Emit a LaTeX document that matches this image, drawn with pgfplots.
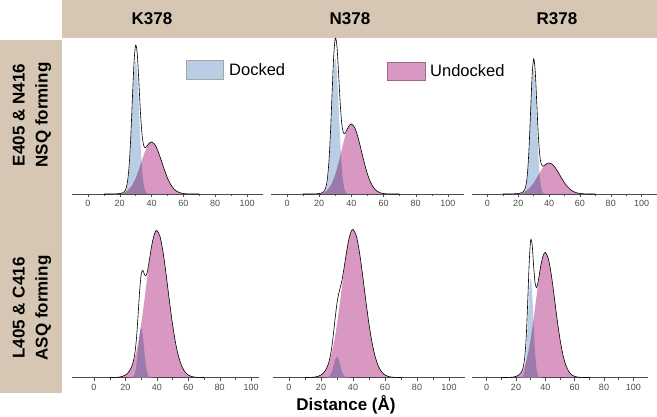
\documentclass[border=0pt]{standalone}
\usepackage{pgfplots}
\pgfplotsset{compat=1.18}
\usepackage{pgfplotstable}
\usepackage{fontspec}
\setmainfont{Liberation Sans}
\definecolor{tan}{RGB}{213,199,179}
\definecolor{dock}{RGB}{185,205,228}
\definecolor{undock}{RGB}{217,152,193}

\pgfplotstableread{
x d u
10 0 0
12 0 0
14 0 0.02
16 0 0.06
18 0 0.17
20 0 0.46
21 0 0.72
22 0.2 1.12
23 0.8 1.70
24 3.2 2.51
25 10.1 3.63
26 25.5 5.11
27 52.5 7.04
28 88.0 9.46
29 120.0 12.42
30 133.0 15.92
31 120.0 19.94
32 88.0 24.38
33 52.5 29.11
34 25.5 33.96
35 10.1 38.68
36 3.2 43.03
37 0.8 46.75
38 0.2 49.60
39 0 51.39
40 0 52.00
42 0 49.60
44 0 43.03
46 0 33.96
48 0 24.38
50 0 15.92
52 0 9.46
54 0 5.11
56 0 2.51
58 0 1.12
60 0 0.46
62 0 0.17
64 0 0.06
66 0 0.02
68 0 0
70 0 0
}\tTL

\pgfplotstableread{
x d u
10 0 0
12 0 0
14 0 0
16 0 0.05
18 0 0.15
20 0 0.46
21 0 0.74
22 0.2 1.18
23 0.9 1.83
24 3.3 2.78
25 10.3 4.11
26 26.0 5.93
27 53.7 8.33
28 90.0 11.41
29 122.7 15.25
30 136.0 19.86
31 122.7 25.23
32 90.0 31.26
33 53.7 37.76
34 26.0 44.48
35 10.3 51.09
36 3.3 57.22
37 0.9 62.50
38 0.2 66.56
39 0 69.13
40 0 70.00
42 0 66.56
44 0 57.22
46 0 44.48
48 0 31.26
50 0 19.86
52 0 11.41
54 0 5.93
56 0 2.78
58 0 1.18
60 0 0.46
62 0 0.15
64 0 0.05
66 0 0
68 0 0
70 0 0
}\tTM

\pgfplotstableread{
x d u
10 0 0
12 0 0.01
14 0 0.03
16 0 0.09
18 0 0.22
20 0 0.52
21 0 0.78
22 0 1.14
23 0.3 1.62
24 1.4 2.28
25 5.4 3.12
26 16.8 4.19
27 40.3 5.53
28 75.2 7.13
29 109.4 9.02
30 124.0 11.17
31 109.4 13.57
32 75.2 16.14
33 40.3 18.80
34 16.8 21.47
35 5.4 24.02
36 1.4 26.33
37 0.3 28.28
38 0 29.76
39 0 30.69
40 0 31.00
42 0 29.76
44 0 26.33
46 0 21.47
48 0 16.14
50 0 11.17
52 0 7.13
54 0 4.19
56 0 2.28
58 0 1.14
60 0 0.52
62 0 0.22
64 0 0.09
66 0 0.03
68 0 0.01
70 0 0
}\tTR

\pgfplotstableread{
x d u
10 0 0.01
12 0 0.04
14 0 0.15
16 0 0.41
18 0 1.06
20 0 2.48
21 0 3.69
22 0 5.39
23 0.03 7.70
24 0.20 10.79
25 1.06 14.80
26 4.24 19.89
27 12.47 26.21
28 26.97 33.82
29 42.85 42.76
30 50.00 52.98
31 42.85 64.33
32 26.97 76.51
33 12.47 89.16
34 4.24 101.81
35 1.06 113.90
36 0.20 124.86
37 0.03 134.11
38 0 141.12
39 0 145.52
40 0 147.00
42 0 141.12
44 0 124.86
46 0 101.81
48 0 76.51
50 0 52.98
52 0 33.82
54 0 19.89
56 0 10.79
58 0 5.39
60 0 2.48
62 0 1.06
64 0 0.41
66 0 0.15
68 0 0.04
70 0 0.01
}\tBL

\pgfplotstableread{
x d u
10 0 0.01
12 0 0.04
14 0 0.15
16 0 0.41
18 0 1.07
20 0 2.50
21 0 3.71
22 0 5.43
23 0.05 7.76
24 0.23 10.86
25 0.92 14.90
26 2.84 20.02
27 6.82 26.39
28 12.74 34.05
29 18.53 43.05
30 21.00 53.34
31 18.53 64.76
32 12.74 77.03
33 6.82 89.76
34 2.84 102.50
35 0.92 114.67
36 0.23 125.71
37 0.05 135.02
38 0 142.08
39 0 146.51
40 0 148.00
42 0 142.08
44 0 125.71
46 0 102.50
48 0 77.03
50 0 53.34
52 0 34.05
54 0 20.02
56 0 10.86
58 0 5.43
60 0 2.50
62 0 1.07
64 0 0.41
66 0 0.15
68 0 0.04
70 0 0.01
}\tBM

\pgfplotstableread{
x d u
10 0 0
12 0 0.01
14 0 0.04
16 0 0.14
18 0 0.41
20 0 1.10
21 0 1.74
22 0 2.70
23 0.05 4.09
24 0.39 6.04
25 2.09 8.73
26 8.39 12.29
27 24.69 16.91
28 53.40 22.74
29 84.84 29.85
30 99.00 38.28
31 84.84 47.93
32 53.40 58.61
33 24.69 69.99
34 8.39 81.64
35 2.09 92.99
36 0.39 103.44
37 0.05 112.38
38 0 119.23
39 0 123.53
40 0 125.00
42 0 119.23
44 0 103.44
46 0 81.64
48 0 58.61
50 0 38.28
52 0 22.74
54 0 12.29
56 0 6.04
58 0 2.70
60 0 1.10
62 0 0.41
64 0 0.14
66 0 0.04
68 0 0.01
70 0 0
}\tBR

\pgfplotsset{
  panel/.style={
    scale only axis, height=156pt, ymin=0, ymax=156,
    anchor=south west, clip=false,
    axis x line=bottom, axis y line=none,
    axis line style={-, draw=black!70, line width=0.5pt},
    xtick={0,20,40,60,80,100}, minor x tick num=1,
    tick align=outside, major tick length=3pt, minor tick length=2pt,
    tick style={black!70, line width=0.4pt},
    /pgf/number format/assume math mode=true,
    xticklabel style={font=\fontsize{9}{10}\selectfont, text=black!70},
  },
  dockp/.style={fill=dock, draw=none, smooth},
  undockp/.style={fill=undock, draw=none, smooth, blend mode=multiply},
  envp/.style={black, line width=0.6pt, smooth},
}

\newcommand{\panel}[1]{%
  \addplot[dockp] table[x=x,y=d]{#1} \closedcycle;
  \addplot[undockp] table[x=x,y=u]{#1} \closedcycle;
  \addplot[envp] table[x=x,y expr=\thisrow{d}+\thisrow{u}]{#1};
}

\begin{document}
\begin{tikzpicture}[x=1pt,y=1pt]
\useasboundingbox (0,0) rectangle (657,416);
\fill[tan] (62,378) rectangle (657,416);
\fill[tan] (0,23) rectangle (62,376);
\node[font=\fontsize{17}{20}\selectfont\bfseries] at (152,397) {K378};
\node[font=\fontsize{17}{20}\selectfont\bfseries] at (350,397) {N378};
\node[font=\fontsize{17}{20}\selectfont\bfseries] at (557,397) {R378};
\node[rotate=90, align=center, font=\fontsize{17}{23}\selectfont\bfseries] at (32,301) {E405 \& N416\\NSQ forming};
\node[rotate=90, align=center, font=\fontsize{17}{23}\selectfont\bfseries] at (32,108) {L405 \& C416\\ASQ forming};
\node[font=\fontsize{17}{20}\selectfont\bfseries] at (346,11) {Distance (Å)};

\begin{axis}[panel, at={(72pt,222pt)}, width=191pt, xmin=-10, xmax=110]
\panel{\tTL}
\end{axis}
\begin{axis}[panel, at={(271pt,222pt)}, width=193pt, xmin=-10, xmax=110]
\panel{\tTM}
\end{axis}
\begin{axis}[panel, at={(472pt,222pt)}, width=185pt, xmin=-10, xmax=110]
\panel{\tTR}
\end{axis}
\begin{axis}[panel, at={(72pt,38.5pt)}, width=187pt, xmin=-14, xmax=105]
\panel{\tBL}
\end{axis}
\begin{axis}[panel, at={(273pt,38.5pt)}, width=192pt, xmin=-10, xmax=110]
\panel{\tBM}
\end{axis}
\begin{axis}[panel, at={(472pt,38.5pt)}, width=176pt, xmin=-10, xmax=110]
\panel{\tBR}
\end{axis}

\fill[dock, draw=black!35, line width=0.4pt] (186,337) rectangle (223,356);
\node[anchor=west, font=\fontsize{16.5}{19}\selectfont, inner sep=0pt] at (229,346.5) {Docked};
\fill[undock, draw=undock!70!black, line width=0.4pt] (387,336) rectangle (425,354);
\node[anchor=west, font=\fontsize{16.5}{19}\selectfont, inner sep=0pt] at (430,345) {Undocked};
\end{tikzpicture}
\end{document}
